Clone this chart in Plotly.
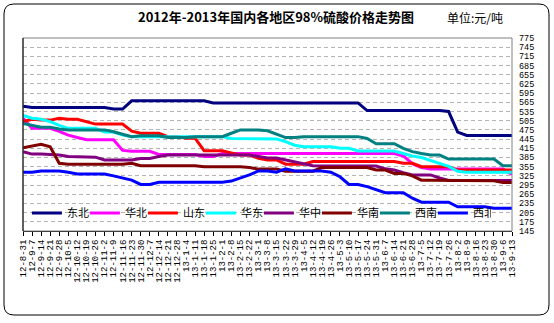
import plotly.graph_objects as go

dates = ["12-8-31","12-9-7","12-9-14","12-9-21","12-9-28","12-10-5","12-10-12","12-10-19","12-10-26",
         "12-11-2","12-11-9","12-11-16","12-11-23","12-11-30","12-12-7","12-12-14","12-12-21","12-12-28",
         "13-1-4","13-1-11","13-1-18","13-1-25","13-2-1","13-2-8","13-2-15","13-2-22","13-3-1","13-3-8",
         "13-3-15","13-3-22","13-3-29","13-4-5","13-4-12","13-4-19","13-4-26","13-5-3","13-5-10","13-5-17",
         "13-5-24","13-5-31","13-6-7","13-6-14","13-6-21","13-6-28","13-7-5","13-7-12","13-7-19","13-7-26",
         "13-8-2","13-8-9","13-8-16","13-8-23","13-8-30","13-9-6","13-9-13"]

dongbei = [552,548,548,548,548,548,548,548,548,548,
           543,543,570,570,570,570,570,570,570,570,
           570,563,563,563,563,563,563,563,563,563,
           563,563,563,563,563,563,563,563,538,538,
           538,538,538,538,538,538,538,535,468,457,
           457,457,457,457,457]
huabei = [513,480,480,480,470,458,450,443,443,443,
          443,408,405,405,405,395,395,395,395,395,
          388,388,398,398,398,398,398,398,398,398,
          398,398,398,398,398,398,398,398,398,398,
          398,398,390,365,352,347,347,347,347,347,
          347,347,347,347,330]
shandong = [502,510,507,507,513,510,510,502,494,494,
            494,494,471,464,464,464,453,453,448,448,
            407,407,407,400,393,393,382,377,377,363,
            363,363,372,372,372,372,372,372,372,372,
            372,372,366,366,355,355,355,355,344,344,
            344,344,344,344,344]
huadong = [522,513,510,502,490,480,480,480,480,468,
           468,458,453,453,453,453,453,453,453,453,
           453,453,453,447,447,447,447,447,445,437,
           425,420,420,420,420,415,415,406,406,406,
           406,406,398,390,385,375,365,356,340,337,
           337,337,337,337,337]
huazhong = [404,396,396,395,393,388,388,388,386,377,
            377,377,377,382,382,388,393,393,393,393,
            393,393,393,393,393,393,388,383,383,377,
            371,365,358,357,357,357,357,357,357,357,
            348,344,335,328,328,328,318,310,310,310,
            310,310,310,310,310]
huanan = [417,422,428,420,366,363,363,363,363,363,
          363,363,366,358,358,358,358,358,358,358,
          355,355,355,355,355,352,347,347,347,340,
          340,340,340,352,352,352,352,352,352,344,
          344,333,333,325,311,311,311,311,311,311,
          309,309,309,303,303]
xinan = [496,489,484,484,478,475,475,475,475,475,
         469,461,453,456,456,456,450,450,450,453,
         453,453,453,464,475,475,475,472,462,450,
         450,453,453,453,453,453,453,453,447,430,
         430,430,415,404,398,393,393,380,380,380,
         380,380,380,358,358]
xibei = [337,337,341,341,341,337,331,331,331,331,
         325,317,311,297,297,304,304,304,304,304,
         304,304,304,308,317,328,341,341,337,348,
         341,341,341,341,337,322,297,297,290,279,
         270,270,270,252,239,239,239,239,224,224,
         224,224,219,219,219]

series_names = ["东北", "华北", "山东", "华东", "华中", "华南", "西南", "西北"]
series_values = [dongbei, huabei, shandong, huadong, huazhong, huanan, xinan, xibei]
colors = ["#000080", "#FF00FF", "#FF0000", "#00FFFF", "#800080", "#800000", "#008080", "#0000FF"]

title_text = "2012年-2013年国内各地区98%硫酸价格走势图"
unit_text = "单位:元/吨"
y_min, y_max, y_step = 145, 775, 30

W, H = 554, 323
ML, MR, MT, MB = 23, 42, 38, 92
PW, PH = W - ML - MR, H - MT - MB

def px(x):
    return (x - ML) / PW

def py(y):
    return (H - MB - y) / PH

CJK = "Noto Sans CJK SC"
MONO = "Liberation Mono"

fig = go.Figure()
for name, vals, col in zip(series_names, series_values, colors):
    fig.add_trace(go.Scatter(x=dates, y=vals, mode="lines", name=name,
                             line=dict(color=col, width=3)))

# rounded outer frame
x0, x1, y0, y1, r = px(4), px(549), py(4), py(315), 10
rx, ry = r / PW, r / PH
path = (f"M{x0+rx},{y0} L{x1-rx},{y0} Q{x1},{y0} {x1},{y0-ry} "
        f"L{x1},{y1+ry} Q{x1},{y1} {x1-rx},{y1} "
        f"L{x0+rx},{y1} Q{x0},{y1} {x0},{y1+ry} "
        f"L{x0},{y0-ry} Q{x0},{y0} {x0+rx},{y0} Z")

fig.update_layout(
    width=W, height=H,
    margin=dict(l=ML, r=MR, t=MT, b=MB, pad=0),
    paper_bgcolor="white", plot_bgcolor="white",
    title=dict(text=title_text, x=276 / W, xanchor="center", xref="container",
               y=1 - 17 / H, yanchor="middle",
               font=dict(family=CJK, size=13, color="black", weight="bold")),
    showlegend=True,
    legend=dict(orientation="h", x=0.008, y=py(213), xanchor="left", yanchor="middle",
                font=dict(family=CJK, size=11, color="black"),
                bgcolor="rgba(0,0,0,0)", entrywidth=13, entrywidthmode="pixels",
                itemwidth=30, tracegroupgap=0),
    xaxis=dict(type="category", range=[0, len(dates) - 1], tickmode="array",
               tickvals=dates, ticktext=dates, tickangle=-90,
               ticks="outside", ticklen=4, tickcolor="black",
               showline=True, linecolor="black", linewidth=1,
               showgrid=False, zeroline=False,
               tickfont=dict(family=MONO, size=9, color="black")),
    yaxis=dict(side="right", range=[y_min, y_max], tick0=y_min, dtick=y_step,
               tickmode="linear", showgrid=True, gridcolor="#b4b4b4", gridwidth=1,
               griddash="4px,3px", zeroline=False, showline=False, ticks="",
               ticklabelstandoff=6,
               tickfont=dict(family=MONO, size=8.5, color="black")),
    shapes=[
        dict(type="rect", xref="paper", yref="paper", x0=0, x1=1, y0=0, y1=1,
             line=dict(color="#808080", width=1), layer="above"),
        dict(type="line", xref="paper", yref="paper", x0=0, x1=0, y0=0, y1=1,
             line=dict(color="black", width=1), layer="above"),
        dict(type="path", xref="paper", yref="paper", path=path,
             line=dict(color="black", width=1), layer="below"),
    ],
    annotations=[
        dict(text=unit_text, xref="paper", yref="paper", x=px(505), y=py(17),
             xanchor="right", yanchor="middle", showarrow=False,
             font=dict(family=CJK, size=12, color="black")),
    ],
)

fig.write_html("out.html")
